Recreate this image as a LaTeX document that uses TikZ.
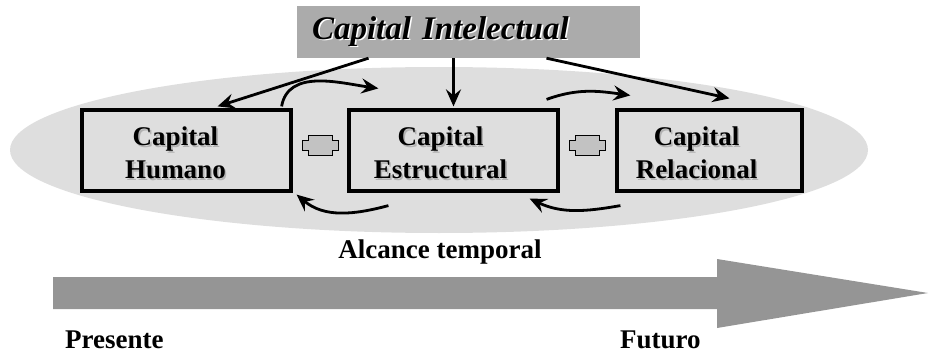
\documentclass[tikz,border=0pt]{standalone}
\usepackage{fontspec}
\setmainfont{Liberation Serif}
\usetikzlibrary{arrows.meta, positioning, calc}

\definecolor{ovalgray}{HTML}{DEDEDE}
\definecolor{titlegray}{HTML}{ABABAB}
\definecolor{pluggray}{HTML}{C2C2C2}
\definecolor{timegray}{HTML}{959595}

% text with a small offset shadow
\newcommand{\shd}[2]{\makebox[0pt][l]{\hspace{1.6pt}\raisebox{-1.6pt}{\textcolor{#1}{#2}}}#2}

\tikzset{
    plug/.pic={
        \draw[fill=pluggray, line width=0.8pt]
            (-12,-10) -- (12,-10) -- (12,-5) -- (18,-5) -- (18,5) -- (12,5)
            -- (12,10) -- (-12,10) -- (-12,5) -- (-18,5) -- (-18,-5) -- (-12,-5) -- cycle;
    }
}

\begin{document}
\begin{tikzpicture}[
    x=1pt, y=-1pt,
    every node/.style={font=\fontsize{27}{33}\selectfont\bfseries},
    box/.style={rectangle, draw, line width=3.2pt, fill=ovalgray,
                minimum height=81pt, inner sep=0pt},
    boxtxt/.style={align=center, inner sep=0pt},
    arr/.style={-{Stealth[length=17pt, width=15pt, inset=6pt]}, line width=2.8pt},
    tag/.style={inner sep=0pt, anchor=base west}
]
\useasboundingbox (0,0) rectangle (929,353);

% background oval
\fill[ovalgray] (439,150) ellipse [x radius=429, y radius=83];

\node[rectangle, fill=titlegray, minimum width=343pt, minimum height=52pt,
      text width=313pt, inner xsep=15pt, inner ysep=0pt, align=left,
      font=\fontsize{33}{36}\selectfont\bfseries\itshape]
      (intel) at (468.5,32) {\shd{white}{Capital Intelectual}};

\node[box, minimum width=209pt] (hum) at (186.5,150.5) {};
\node[box, minimum width=209pt] (est) at (453.5,150.5) {};
\node[box, minimum width=185pt] (rel) at (709.5,150.5) {};

\node[boxtxt] (humtxt) at ([xshift=-11pt, yshift=-3pt]hum.center) {\shd{gray!60}{Capital}\\\shd{gray!60}{Humano}};
\node[boxtxt] (esttxt) at ([xshift=-13pt, yshift=-3pt]est.center) {\shd{gray!60}{Capital}\\\shd{gray!60}{Estructural}};
\node[boxtxt] (reltxt) at ([xshift=-13pt, yshift=-3pt]rel.center) {\shd{gray!60}{Capital}\\\shd{gray!60}{Relacional}};

\coordinate (p1) at ($(hum.east)!0.5!(est.west)+(0,-5)$);
\coordinate (p2) at ($(est.east)!0.5!(rel.west)+(0,-5)$);
\pic at (p1) {plug};
\pic at (p2) {plug};

\draw[arr] ([xshift=-100pt]intel.south) -- ([xshift=31pt, yshift=2pt]hum.north);
\draw[arr] (intel.south -| est.north) -- ([yshift=2pt]est.north);
\draw[arr] ([xshift=78pt]intel.south) -- ([xshift=20pt, yshift=10pt]rel.north);

\draw[arr] ([xshift=-11pt, yshift=2pt]hum.north east) to[out=80, in=172] ([xshift=31pt, yshift=20pt]est.north west);
\draw[arr] ([xshift=-13pt, yshift=9pt]est.north east) to[out=20, in=172] ([xshift=15pt, yshift=13pt]rel.north west);
\draw[arr] ([xshift=41pt, yshift=-13pt]est.south west) to[out=195, in=-40] ([xshift=4pt, yshift=-2pt]hum.south east);
\draw[arr] ([xshift=5pt, yshift=-13pt]rel.south west) to[out=190, in=-25] ([xshift=-30pt, yshift=-6pt]est.south east);

\node (alc) at (440,252) {Alcance temporal};

% time arrow
\fill[timegray] (53,277) -- (717,277) -- (717,259) -- (928,293) -- (717,328)
    -- (717,309) -- (53,309) -- cycle;

\node[tag] (pres) at (65,348) {Presente};
\node[tag] (fut) at (620,348) {Futuro};
\end{tikzpicture}
\end{document}
